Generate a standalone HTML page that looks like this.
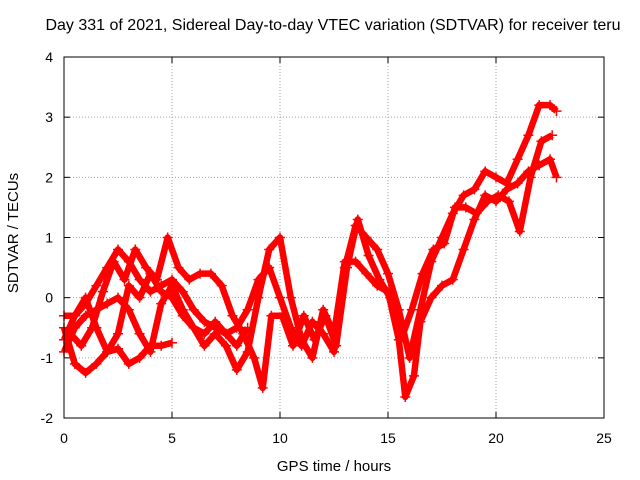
<!DOCTYPE html>
<html><head><meta charset="utf-8"><style>
body{margin:0;background:#fff}
svg{display:block;font-family:"Liberation Sans",sans-serif}
</style></head><body>
<svg id="c" width="640" height="480">
<text x="333" y="30" font-size="16" text-anchor="middle">Day 331 of 2021, Sidereal Day-to-day VTEC variation (SDTVAR) for receiver teru</text>
<text x="334" y="471" font-size="15" text-anchor="middle">GPS time / hours</text>
<text transform="translate(18,233) rotate(-90)" font-size="15" text-anchor="middle">SDTVAR / TECUs</text>
<g id="grid"></g><g id="ticks"></g><g id="series"></g>
<rect x="64" y="57" width="540" height="361" fill="none" stroke="#000"/>
</svg>
<script>
const xTicks=[0,5,10,15,20,25];
const yTicks=[-2,-1,0,1,2,3,4];
const s1=[[0,-0.3],[0.5,-0.3],[1,-0.1],[1.5,0.2],[2,0.5],[2.5,0.8],[3,0.6],[3.5,0.3],[4,0.1],[4.5,0.2],[5,0.3],[5.5,0.1],[6,-0.2],[6.5,-0.4],[7,-0.5],[7.5,-0.6],[8,-0.5],[8.5,-0.2],[9,0.3],[9.5,0.5],[10,0.0],[10.5,-0.5],[11,-0.8],[11.5,-0.4],[12,-0.6],[12.5,-0.9],[13,0.5],[13.5,1.2],[14,1.0],[14.5,0.8],[15,0.4],[15.5,-0.2],[16,-1.0],[16.5,-0.2],[17,0.6],[17.5,1.0],[18,1.4],[18.5,1.7],[19,1.8],[19.5,2.1],[20,2.0],[20.5,1.9],[21,2.3],[21.5,2.7],[22,3.2],[22.5,3.2],[22.8,3.1]];
const s2=[[0,-0.5],[0.5,-1.1],[1,-1.25],[1.5,-1.1],[2,-0.9],[2.5,-0.85],[3,-1.1],[3.5,-1.0],[4,-0.8],[4.5,-0.8],[5,-0.75]];
const s3=[[0,-0.9],[0.5,-0.5],[1,-0.3],[1.5,-0.2],[2,-0.1],[2.5,0.0],[3,-0.2],[3.5,-0.6],[4,-0.9],[4.5,-0.1],[5,0.2],[5.5,-0.2],[6,-0.5],[6.5,-0.8],[7,-0.6],[7.5,-0.8],[8,-1.2],[8.5,-0.9],[9,0.0],[9.5,0.8],[10,1.0],[10.5,0.0],[11,-0.7],[11.5,-1.0],[12,-0.2],[12.5,-0.6],[13,0.6],[13.5,0.6],[14,0.4],[14.5,0.2],[15,0.1],[15.5,-0.7],[15.8,-1.65],[16.2,-1.3],[16.5,-0.4],[17,0.0],[17.5,0.2],[18,0.3],[18.5,0.8],[19,1.3],[19.5,1.7],[20,1.6],[20.5,1.8],[21,1.9],[21.5,2.1],[22,2.2],[22.5,2.3],[22.8,2.0]];
const s4=[[0.3,-0.6],[0.8,-0.8],[1.3,-0.5],[1.8,0.1],[2.3,0.6],[2.8,0.3],[3.3,0.8],[3.8,0.5],[4.3,0.3],[4.8,1.0],[5.3,0.5],[5.8,0.3],[6.3,0.4],[6.8,0.4],[7.3,0.2],[7.8,-0.3],[8.3,-0.6],[8.8,-1.0],[9.2,-1.5],[9.6,-0.3],[10.1,-0.3],[10.6,-0.8],[11.1,-0.3],[11.6,-0.7],[12.1,-0.3],[12.6,-0.8],[13.1,0.5],[13.6,1.3],[14.1,0.7],[14.6,0.3],[15.1,0.0],[15.6,-0.7],[16.1,-0.2],[16.6,0.4],[17.1,0.8],[17.6,0.9],[18.1,1.5],[18.6,1.5],[19.1,1.4],[19.6,1.6],[20.1,1.7],[20.6,1.6],[21.1,1.1],[21.6,2.0],[22.1,2.6],[22.6,2.7]];
const s5=[[0,-0.7],[0.5,-0.3],[1,0.0],[1.5,-0.5],[2,-0.9],[2.5,-0.6],[3,0.2],[3.5,0.0],[4,0.4],[4.5,0.1],[5,0.0],[5.5,-0.3],[6,-0.5],[6.5,-0.6],[7,-0.4],[7.5,-0.6],[8,-0.8],[8.5,-0.5]];
const NS="http://www.w3.org/2000/svg";
const X=t=>64+t*540/25, Y=v=>418-(v+2)*361/6;
function mk(tag,attrs,parent){const e=document.createElementNS(NS,tag);for(const k in attrs)e.setAttribute(k,attrs[k]);parent.appendChild(e);return e;}
const grid=document.getElementById('grid'),ticks=document.getElementById('ticks'),ser=document.getElementById('series');
xTicks.forEach(t=>{
  if(t>0&&t<25){const g=mk('line',{x1:X(t),x2:X(t),y1:57,y2:418,stroke:'#a0a0a0','stroke-dasharray':'1,2'},grid);
  
  }
  mk('line',{x1:X(t),x2:X(t),y1:418,y2:412,stroke:'#000'},ticks);
  mk('line',{x1:X(t),x2:X(t),y1:57,y2:63,stroke:'#000'},ticks);
  const l=mk('text',{x:X(t),y:443,'font-size':14,'text-anchor':'middle'},ticks);l.textContent=t;
  
  
});
yTicks.forEach(v=>{
  if(v>-2&&v<4){const g=mk('line',{x1:64,x2:604,y1:Y(v),y2:Y(v),stroke:'#a0a0a0','stroke-dasharray':'1,2'},grid);
  
  }
  mk('line',{x1:64,x2:70,y1:Y(v),y2:Y(v),stroke:'#000'},ticks);
  mk('line',{x1:604,x2:598,y1:Y(v),y2:Y(v),stroke:'#000'},ticks);
  const l=mk('text',{x:53,y:Y(v)+5,'font-size':14,'text-anchor':'end'},ticks);l.textContent=v;
  
  
});
[s1,s2,s3,s4,s5].forEach((s,i)=>{
  const p=mk('polyline',{points:s.map(d=>X(d[0])+','+Y(d[1])).join(' '),fill:'none',stroke:'#f00','stroke-width':6.5,'stroke-linejoin':'round'},ser);
  
  
  s.forEach(d=>{const m=mk('path',{d:`M${X(d[0])-5},${Y(d[1])}h10M${X(d[0])},${Y(d[1])-5}v10`,stroke:'#f00','stroke-width':1.5},ser);
    
    });
});
</script>
</body></html>
